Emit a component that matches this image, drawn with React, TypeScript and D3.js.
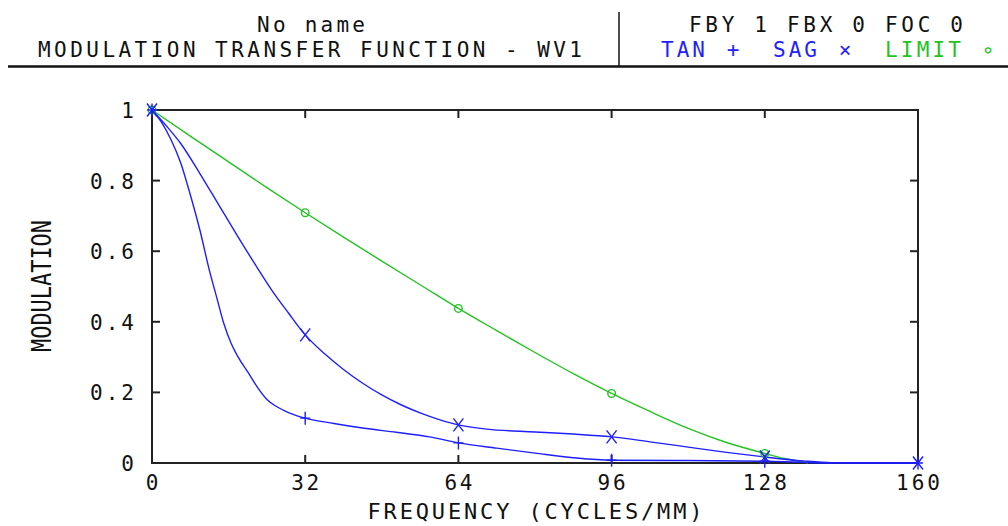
import React from "react";
import * as d3 from "d3";

// MTF curves: [frequency (cycles/mm), modulation]
const tanCurve: [number, number][] = [
  [0, 1], [2, 0.965], [4, 0.915], [6, 0.85], [8, 0.76], [10, 0.66], [12, 0.545],
  [13.5, 0.47], [15, 0.395], [16.5, 0.34], [18, 0.3], [20, 0.258], [22, 0.215],
  [24, 0.18], [26, 0.16], [28.5, 0.143], [32, 0.127], [38, 0.112], [44, 0.099],
  [51, 0.087], [58, 0.074], [64, 0.057], [72, 0.042], [80, 0.028], [88.7, 0.014],
  [96, 0.008], [112, 0.007], [128, 0.005], [136, 0.002], [140, 0], [160, 0],
];

const sagCurve: [number, number][] = [
  [0, 1], [3, 0.955], [6, 0.905], [10, 0.82], [14, 0.73], [18, 0.64], [22, 0.553],
  [25, 0.49], [28.5, 0.425], [32, 0.363], [36, 0.31], [40, 0.265], [44, 0.226],
  [48, 0.193], [52, 0.165], [56, 0.142], [60, 0.123], [64, 0.108], [70, 0.096],
  [80, 0.088], [88, 0.082], [96, 0.074], [104, 0.06], [112, 0.045], [120, 0.03],
  [128, 0.017], [136, 0.006], [142, 0.001], [160, 0],
];

const limitCurve: [number, number][] = [
  [0, 1], [8, 0.926], [16, 0.853], [24, 0.78], [32, 0.709], [40, 0.64], [48, 0.572],
  [56, 0.505], [64, 0.438], [72, 0.375], [80, 0.313], [88, 0.253], [96, 0.197],
  [104, 0.146], [112, 0.098], [120, 0.058], [128, 0.027], [132, 0.013], [136, 0.003],
  [137, 0],
];

const markerFreqs = [0, 32, 64, 96, 128, 160];
const xTicks = [0, 32, 64, 96, 128, 160];
const yTicks = [0, 0.2, 0.4, 0.6, 0.8, 1];

const BLUE = "#1e1eff";
const GREEN = "#22c322";
const FONT = "'DejaVu Sans Mono', 'Liberation Mono', monospace";
const ADV = 16; // monospaced character advance seen in the picture

function MonoText({ x, y, text, anchor = "middle", size = 21, fill = "#111", len }: any) {
  const n = text.length;
  const props: any = {};
  if (n > 1) {
    props.textLength = len ?? n * ADV - 4;
    props.lengthAdjust = "spacing";
  }
  return (
    <text x={x} y={y} textAnchor={anchor} fontFamily={FONT} fontSize={size} fill={fill} {...props}>
      {text}
    </text>
  );
}

export default function App() {
  const x = d3.scaleLinear().domain([0, 160]).range([152, 918]);
  const y = d3.scaleLinear().domain([0, 1]).range([463, 110]);
  const line = d3
    .line<[number, number]>()
    .x((d) => x(d[0]))
    .y((d) => y(d[1]))
    .curve(d3.curveMonotoneX);

  const atMarks = (c: [number, number][]) => c.filter((d) => markerFreqs.includes(d[0]));
  const tick = 8;
  const [x0, x1] = x.range();
  const [y0, y1] = y.range();

  return (
    <svg width={1008} height={526} style={{ position: "absolute", left: 0, top: 0, background: "#fff" }}>
      {/* header */}
      <MonoText x={311} y={32} text="No name" />
      <MonoText x={310} y={57} text="MODULATION TRANSFER FUNCTION - WV1" len={544} />
      <line x1={619} x2={619} y1={12} y2={66} stroke="#111" strokeWidth={1.5} />
      <MonoText x={826} y={32} text="FBY 1 FBX 0 FOC 0" len={274} />
      <MonoText x={661} y={57} text="TAN" anchor="start" fill={BLUE} />
      <MonoText x={733} y={57} text="+" fill={BLUE} />
      <MonoText x={773} y={57} text="SAG" anchor="start" fill={BLUE} />
      <MonoText x={845} y={57} text="×" fill={BLUE} />
      <MonoText x={885} y={57} text="LIMIT" anchor="start" fill={GREEN} />
      <MonoText x={988} y={57} text="∘" fill={GREEN} />
      <line x1={8} x2={1008} y1={66.5} y2={66.5} stroke="#111" strokeWidth={2.5} />

      {/* frame with inward ticks */}
      <rect x={x0} y={y1} width={x1 - x0} height={y0 - y1} fill="none" stroke="#222" strokeWidth={2} />
      {xTicks.slice(1, -1).map((t) => (
        <g key={"xt" + t} stroke="#222" strokeWidth={2}>
          <line x1={x(t)} x2={x(t)} y1={y0} y2={y0 - tick} />
          <line x1={x(t)} x2={x(t)} y1={y1} y2={y1 + tick} />
        </g>
      ))}
      {yTicks.slice(1, -1).map((t) => (
        <g key={"yt" + t} stroke="#222" strokeWidth={2}>
          <line x1={x0} x2={x0 + tick} y1={y(t)} y2={y(t)} />
          <line x1={x1} x2={x1 - tick} y1={y(t)} y2={y(t)} />
        </g>
      ))}
      {xTicks.map((t) => (
        <MonoText key={"xl" + t} x={x(t)} y={490} text={String(t)} />
      ))}
      {yTicks.map((t) => (
        <MonoText key={"yl" + t} x={134} y={y(t) + 8} anchor="end" text={d3.format("~g")(t)} />
      ))}
      <MonoText x={535} y={519} text="FREQUENCY (CYCLES/MM)" size={22} len={335} />
      <g transform="translate(51,286) rotate(-90)">
        <text x={0} y={0} textAnchor="middle" fontFamily={FONT} fontSize={26} fill="#111"
          textLength={132} lengthAdjust="spacingAndGlyphs">MODULATION</text>
      </g>

      {/* curves */}
      <path d={line(limitCurve) ?? ""} fill="none" stroke={GREEN} strokeWidth={1.4} />
      <path d={line(sagCurve) ?? ""} fill="none" stroke={BLUE} strokeWidth={1.4} />
      <path d={line(tanCurve) ?? ""} fill="none" stroke={BLUE} strokeWidth={1.4} />

      {/* markers */}
      {atMarks(limitCurve).map((d) => (
        <circle key={"c" + d[0]} cx={x(d[0])} cy={y(d[1])} r={3.8} fill="none" stroke={GREEN} strokeWidth={1.4} />
      ))}
      {atMarks(sagCurve).map((d) => (
        <path key={"s" + d[0]} transform={`translate(${x(d[0])},${y(d[1])})`}
          d="M-5,-6.5L5,6.5M-5,6.5L5,-6.5" stroke={BLUE} strokeWidth={1.4} />
      ))}
      {atMarks(tanCurve).map((d) => (
        <path key={"t" + d[0]} transform={`translate(${x(d[0])},${y(d[1])})`}
          d="M-5,0L5,0M0,-6.5L0,6.5" stroke={BLUE} strokeWidth={1.4} />
      ))}
    </svg>
  );
}
